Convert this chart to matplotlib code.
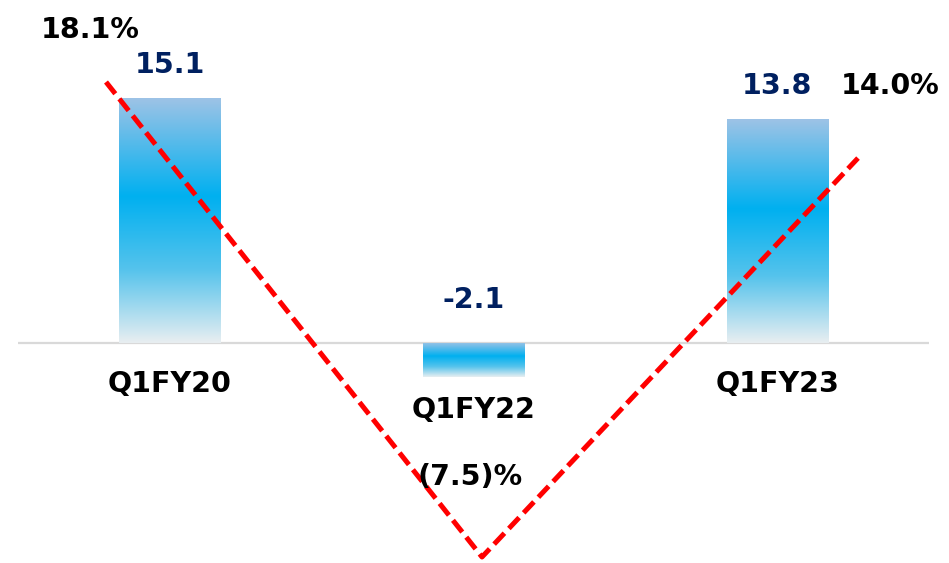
import numpy as np
import matplotlib
matplotlib.use("Agg")
import matplotlib.pyplot as plt
from matplotlib.colors import LinearSegmentedColormap

# data
quarters = ["Q1FY20", "Q1FY22", "Q1FY23"]
bar_values = [15.1, -2.1, 13.8]
growth_pct = [18.1, -7.5, 14.0]
growth_labels = ["18.1%", "(7.5)%", "14.0%"]

W, H = 949, 563
fig = plt.figure(figsize=(W / 100, H / 100), dpi=100)

# bar axes: spans the light grey baseline, x from -0.5 to 2.5
ax = fig.add_axes([18 / W, 0, 911 / W, 1])
ax.set_xlim(-0.5, 2.5)
ax.set_ylim(-(H - 343) / 16.2, 343 / 16.2)
ax.axis("off")

# top -> bottom gradient of each bar
grad = LinearSegmentedColormap.from_list(
    "bar_grad",
    [(0.0, "#9DC3E6"), (0.40, "#00B0F0"), (0.70, "#55C3EC"), (1.0, "#E8EEF1")],
)

x = np.arange(len(quarters))
bars = ax.bar(x, bar_values, width=0.333, color="none", edgecolor="none", zorder=2)
g = np.linspace(0, 1, 256).reshape(-1, 1)
for b in bars:
    x0, y0 = b.get_x(), b.get_y()
    w, h = b.get_width(), b.get_height()
    lo, hi = min(y0, y0 + h), max(y0, y0 + h)
    im = ax.imshow(g, cmap=grad, aspect="auto", extent=[x0, x0 + w, lo, hi],
                   origin="upper", zorder=2)
    im.set_clip_path(b)

ax.axhline(0, color="#D9D9D9", lw=1.6, zorder=1)

fs = 20.5
# value labels and category labels
for xi, v, q in zip(x, bar_values, quarters):
    if v >= 0:
        ax.annotate(f"{v:.1f}", (xi, v), xytext=(0, 33), textcoords="offset pixels",
                    ha="center", va="center", fontsize=fs, fontweight="bold",
                    color="#002060")
        ax.annotate(q, (xi, 0), xytext=(0, -41), textcoords="offset pixels",
                    ha="center", va="center", fontsize=fs, fontweight="bold",
                    color="black")
    else:
        ax.annotate(f"{v:.1f}", (xi, 0), xytext=(0, 43), textcoords="offset pixels",
                    ha="center", va="center", fontsize=fs, fontweight="bold",
                    color="#002060")
        ax.annotate(q, (xi, v), xytext=(0, -33), textcoords="offset pixels",
                    ha="center", va="center", fontsize=fs, fontweight="bold",
                    color="black")

# growth line on its own overlay axes
ax2 = fig.add_axes([0, 0, 1, 1])
ax2.set_xlim(-106 / 376, -106 / 376 + W / 376)
px_per_pct = (557 - 82) / (18.1 + 7.5)
top = 18.1 + 82 / px_per_pct
ax2.set_ylim(top - H / px_per_pct, top)
ax2.axis("off")
ax2.patch.set_alpha(0)

xl = np.arange(len(growth_pct))
ax2.plot(xl, growth_pct, color="#FF0000", lw=3.6, linestyle=(0, (3.0, 1.3)),
         solid_capstyle="butt", zorder=3)

offsets = [(-16, 52), (-12, 80), (32, 72)]
for xi, v, lab, off in zip(xl, growth_pct, growth_labels, offsets):
    ax2.annotate(lab, (xi, v), xytext=off, textcoords="offset pixels",
                 ha="center", va="center", fontsize=fs, fontweight="bold",
                 color="black", zorder=4)

fig.savefig("out.png", dpi=100)
